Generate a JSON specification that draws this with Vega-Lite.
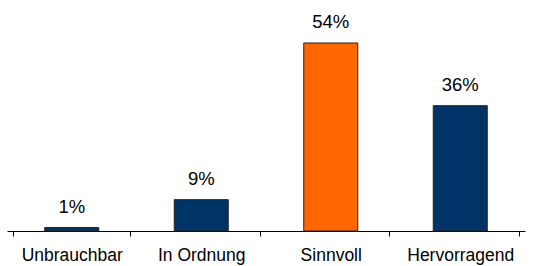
{
  "$schema": "https://vega.github.io/schema/vega-lite/v6.json",
  "width": 518,
  "height": 231,
  "autosize": "none",
  "padding": {"left": 7, "top": 0, "right": 11, "bottom": 35},
  "background": "white",
  "config": {"view": {"stroke": null}, "font": "Liberation Sans"},
  "data": {"values": [
    {"kategorie": "Unbrauchbar", "anteil": 1, "label": "1%", "hervor": "nein"},
    {"kategorie": "In Ordnung", "anteil": 9, "label": "9%", "hervor": "nein"},
    {"kategorie": "Sinnvoll", "anteil": 54, "label": "54%", "hervor": "ja"},
    {"kategorie": "Hervorragend", "anteil": 36, "label": "36%", "hervor": "nein"}
  ]},
  "encoding": {
    "x": {"field": "kategorie", "type": "nominal", "sort": null,
      "axis": {"title": null, "labelAngle": 0, "labelFontSize": 17.5, "labelColor": "#000", "labelFont": "Liberation Sans",
        "tickBand": "extent", "tickSize": 5, "tickColor": "#000", "domainColor": "#000", "labelPadding": 10}},
    "y": {"field": "anteil", "type": "quantitative", "scale": {"domain": [0, 66.35]}, "axis": null}
  },
  "layer": [
    {"mark": {"type": "bar", "size": 54, "stroke": "#222", "strokeWidth": 1},
     "encoding": {"color": {"field": "hervor", "type": "nominal", "scale": {"domain": ["nein", "ja"], "range": ["#003366", "#FF6600"]}, "legend": null}}},
    {"mark": {"type": "text", "baseline": "alphabetic", "dy": -15, "fontSize": 18.5, "color": "#000", "font": "Liberation Sans"},
     "encoding": {"text": {"field": "label"}}}
  ]
}
